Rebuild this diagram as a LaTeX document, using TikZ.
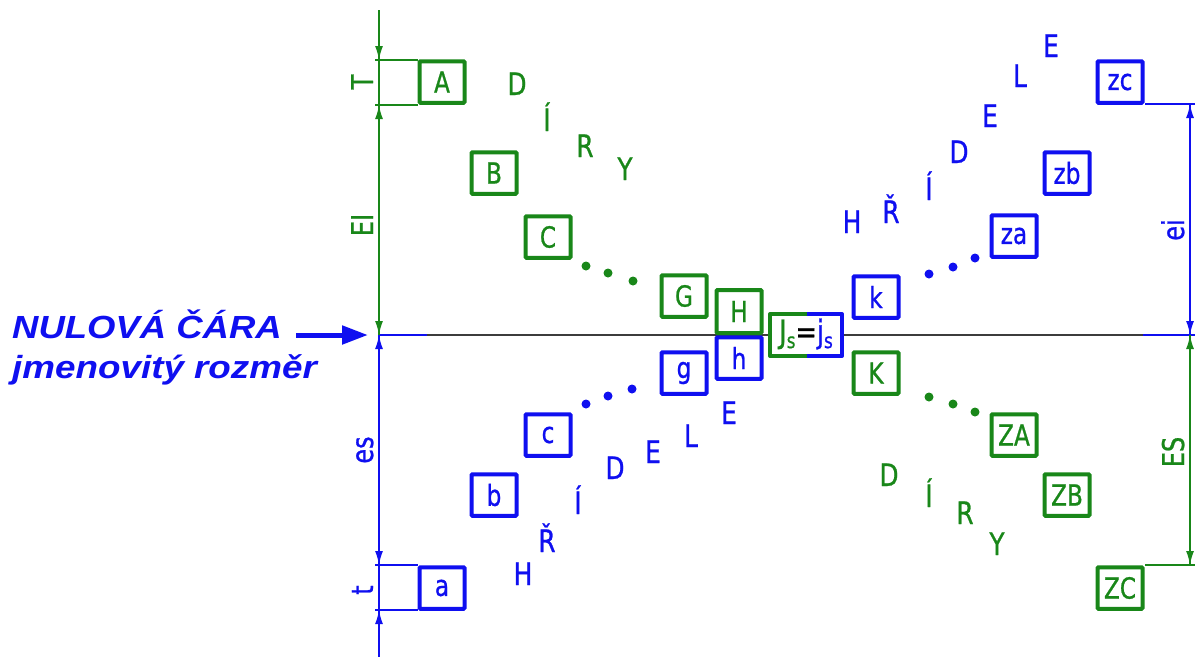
\documentclass[tikz,border=0pt]{standalone}
\usepackage{fontspec}
\setmainfont{DejaVu Sans}[FakeStretch=0.8,FakeBold=0.8]
\newfontfamily\lsans{Liberation Sans}
\usetikzlibrary{arrows.meta}
\definecolor{cg}{RGB}{25,135,25}
\definecolor{cb}{RGB}{15,15,240}
\definecolor{cz}{RGB}{60,60,60}
\begin{document}
\begin{tikzpicture}[x=1pt,y=-1pt,
  box/.style={draw, line width=4pt, minimum width=45pt, minimum height=41.5pt, inner sep=0pt,
    rounded corners=1pt, fill=white, font=\fontsize{29}{29}\selectfont},
  gbox/.style={box, draw=cg, text=cg},
  bbox/.style={box, draw=cb, text=cb},
  lt/.style={font=\fontsize{31}{31}\selectfont, anchor=base, inner sep=0pt},
  dimlbl/.style={font=\fontsize{30}{30}\selectfont, anchor=base, inner sep=0pt, rotate=90},
  dimline/.style={line width=1.8pt},
  dimtip/.style={line width=1.8pt, -{Latex[length=14pt,width=8pt]}},
  dot/.style={circle, fill, inner sep=0pt, minimum size=9pt}
]
\useasboundingbox (0,0) rectangle (1196,657);

% ---------- coordinates of dimension lines ----------
\coordinate (Ltop) at (379,10);
\coordinate (Lzero) at (379,335);
\coordinate (Lbot) at (379,657);
\coordinate (Rtop) at (1190,104);
\coordinate (Rzero) at (1190,335);
\coordinate (Rbot) at (1190,565);

% ---------- zero line ----------
\coordinate (Z1) at (427,335);
\coordinate (Z2) at (1143,335);
\coordinate (Z3) at (1195,335);
\draw[cz, line width=1.8pt] (Z1) -- (Z2);
\draw[cb, line width=1.8pt] (Lzero) -- (Z1);
\draw[cb, line width=1.8pt] (Z2) -- (Z3);

% ---------- left vertical dimension line ----------
\draw[cg, dimline] (Ltop) -- (Lzero);
\draw[cb, dimline] (Lzero) -- (Lbot);
% extension lines
\draw[cg, dimline] (375,60) -- (418,60);
\draw[cg, dimline] (375,105) -- (418,105);
\draw[cb, dimline] (375,565) -- (418,565);
\draw[cb, dimline] (375,610) -- (418,610);
% arrows
\draw[cg, dimtip] (379,38) -- (379,60);
\draw[cg, dimtip] (379,127) -- (379,105);
\draw[cg, dimtip] (379,313) -- (Lzero);
\draw[cb, dimtip] (379,357) -- (Lzero);
\draw[cb, dimtip] (379,543) -- (379,565);
\draw[cb, dimtip] (379,632) -- (379,610);

% ---------- right vertical dimension line ----------
\draw[cb, dimline] (Rtop) -- (Rzero);
\draw[cg, dimline] (Rzero) -- (Rbot);
\draw[cb, dimline] (1145,104) -- (1195,104);
\draw[cg, dimline] (1145,565) -- (1195,565);
\draw[cb, dimtip] (1190,126) -- (Rtop);
\draw[cb, dimtip] (1190,313) -- (Rzero);
\draw[cg, dimtip] (1190,357) -- (Rzero);
\draw[cg, dimtip] (1190,543) -- (Rbot);

% dimension labels
\node[dimlbl, cg] (lT)  at (373,82)  {T};
\node[dimlbl, cg] (lEI) at (373,225) {EI};
\node[dimlbl, cb] (les) at (373,450) {es};
\node[dimlbl, cb] (lt)  at (373,590) {t};
\node[dimlbl, cb] (lei) at (1184,230) {ei};
\node[dimlbl, cg] (lES) at (1184,452) {ES};

% ---------- boxes ----------
\node[gbox] (A) at (442,82) {A};
\node[gbox] (B) at (494,173) {B};
\node[gbox] (C) at (548,237) {C};
\node[gbox] (G) at (684,296) {G};
\node[bbox] (h) at (739,358) {h};
\node[gbox, minimum height=43pt] (H) at (739,311.5) {H};
\node[bbox] (k) at (876,297) {k};
\node[gbox] (K) at (876,373) {K};
\node[bbox] (g) at (684,373) {g};
\node[bbox] (c) at (548,435) {c};
\node[bbox] (b) at (494,495) {b};
\node[bbox] (a) at (442,588) {a};
\node[bbox] (za) at (1014,236) {za};
\node[bbox] (zb) at (1067,173) {zb};
\node[bbox] (zc) at (1120,82) {zc};
\node[gbox] (ZA) at (1014,435) {ZA};
\node[gbox] (ZB) at (1067,495) {ZB};
\node[gbox] (ZC) at (1120,588) {ZC};

% Js box (two-tone)
\coordinate (J1) at (807,314);
\coordinate (J2) at (807,356);
\fill[white] (770,314) rectangle (842,356);
\draw[cg, line width=4pt, line join=round] (J1) -- (770,314) -- (770,356) -- (J2);
\draw[cb, line width=4pt, line join=round] (J1) -- (842,314) -- (842,356) -- (J2);
\node[inner sep=0pt, font=\fontsize{32}{32}\selectfont] (Js) at (806,334)
  {\textcolor{cg}{J\raisebox{-0.3ex}{\fontsize{21}{21}\selectfont s}}\textcolor{black}{=}\textcolor{cb}{j\raisebox{-0.3ex}{\fontsize{21}{21}\selectfont s}}};

% ---------- letters ----------
% upper left: DIRY (green)
\node[lt, cg] (d1) at (517,95) {D};
\node[lt, cg] (d2) at (547,131) {Í};
\node[lt, cg] (d3) at (585,157) {R};
\node[lt, cg] (d4) at (625,180) {Y};
% lower right: DIRY (green)
\node[lt, cg] (d5) at (889,486) {D};
\node[lt, cg] (d6) at (929,507) {Í};
\node[lt, cg] (d7) at (965,524) {R};
\node[lt, cg] (d8) at (997,555) {Y};
% upper right: HRIDELE (blue)
\node[lt, cb] (s1) at (852,233) {H};
\node[lt, cb] (s2) at (891,223) {Ř};
\node[lt, cb] (s3) at (929,200) {Í};
\node[lt, cb] (s4) at (959,163) {D};
\node[lt, cb] (s5) at (990,127) {E};
\node[lt, cb] (s6) at (1020,87) {L};
\node[lt, cb] (s7) at (1051,57) {E};
% lower left: HRIDELE (blue)
\node[lt, cb] (t1) at (523,585) {H};
\node[lt, cb] (t2) at (547,552) {Ř};
\node[lt, cb] (t3) at (578,514) {Í};
\node[lt, cb] (t4) at (615,479) {D};
\node[lt, cb] (t5) at (653,463) {E};
\node[lt, cb] (t6) at (691,447) {L};
\node[lt, cb] (t7) at (729,424) {E};

% ---------- dots ----------
\node[dot, cg] (p1) at (586,266) {};
\node[dot, cg] (p2) at (608,273) {};
\node[dot, cg] (p3) at (633,281) {};
\node[dot, cb] (p4) at (929,274) {};
\node[dot, cb] (p5) at (953,267) {};
\node[dot, cb] (p6) at (975,258) {};
\node[dot, cb] (p7) at (586,404) {};
\node[dot, cb] (p8) at (608,396) {};
\node[dot, cb] (p9) at (632,389) {};
\node[dot, cg] (p10) at (929,397) {};
\node[dot, cg] (p11) at (953,404) {};
\node[dot, cg] (p12) at (975,412) {};

% ---------- left caption ----------
\node[anchor=base west, inner sep=0pt, text=cb, font=\lsans\bfseries\itshape\fontsize{32}{32}\selectfont] (nul) at (12,338)
  {\scalebox{1.14}[1]{NULOVÁ ČÁRA}};
\node[anchor=base west, inner sep=0pt, text=cb, font=\lsans\bfseries\itshape\fontsize{32}{32}\selectfont] (jm) at (12,378)
  {\scalebox{1.15}[1]{jmenovitý rozměr}};
\coordinate (arrS) at (296,335);
\draw[cb, line width=5pt, -{Triangle[length=26pt,width=18pt]}] (arrS) -- (368,335);

\end{tikzpicture}
\end{document}
